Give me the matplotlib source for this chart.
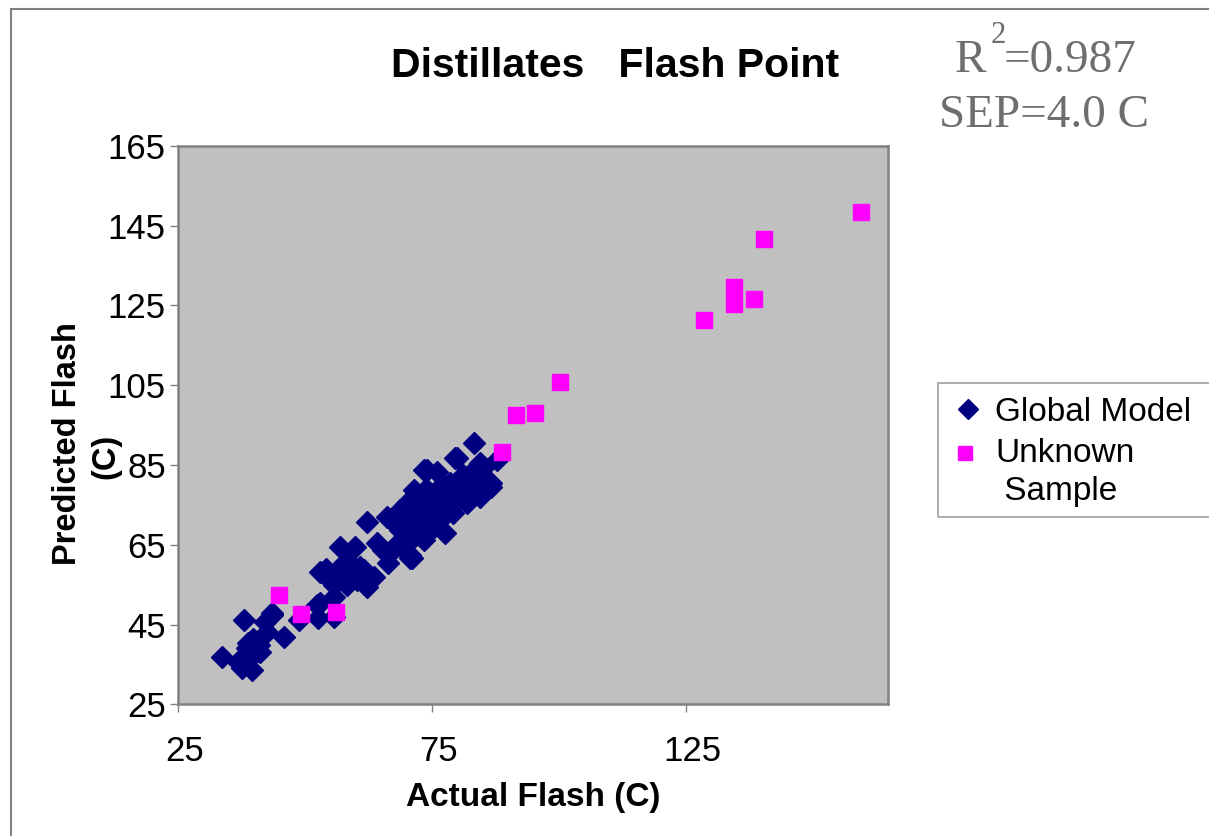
import matplotlib
matplotlib.use("Agg")
import matplotlib.pyplot as plt
from matplotlib.patches import Rectangle
from matplotlib.transforms import ScaledTranslation

plt.rcParams['font.family'] = ['Liberation Sans', 'DejaVu Sans']

# Global model calibration set (actual vs predicted flash point, C)
global_actual = [33.6, 37.9, 43.4, 42.1, 42.4, 45.8, 39.8, 38.8, 40.8, 39.5,
                 37.8, 39.1, 37.5, 39.5, 36.8, 43.4, 52.3, 52.6, 55.6, 48.7,
                 52.9, 56.9, 59.9, 62.2, 66.4, 70.7, 67.7, 63.5, 57.6, 59.5,
                 55.6, 55.6, 52.9, 61.5, 62.2, 60.2, 64.1, 65.4, 66.8, 68.7,
                 71.4, 56.9, 58.2, 54.9, 83.2, 79.9, 87.8, 86.5, 74.0, 76.0,
                 71.4, 66.1, 77.6, 70.7, 67.4, 84.5, 81.9, 79.2, 76.6, 72.7,
                 70.0, 68.7, 72.7, 75.3, 78.0, 80.6, 83.2, 70.0, 74.6, 78.0,
                 81.2, 83.9, 84.5, 71.4, 73.3, 75.3, 86.5, 79.6, 71.0, 73.3,
                 85.2, 58.5, 60.8, 54.0, 74.0, 77.0, 80.0, 82.5, 76.5, 73.8,
                 72.0, 75.0, 78.5, 81.0, 69.5, 73.0, 76.0, 79.0, 82.0, 84.0,
                 57.0, 59.0, 61.0, 55.0, 41.0, 40.0, 38.5]
global_pred = [36.8, 46.1, 47.4, 45.7, 43.2, 42.0, 41.5, 40.3, 39.9, 38.6,
               36.9, 36.5, 34.0, 33.6, 35.7, 47.9, 49.9, 46.6, 47.0, 46.1,
               58.2, 64.5, 64.5, 70.8, 60.4, 61.6, 64.1, 57.0, 60.4, 58.7,
               54.9, 52.0, 50.3, 58.7, 54.5, 56.2, 65.4, 63.7, 71.2, 68.7,
               67.0, 57.8, 54.9, 57.4, 90.4, 86.7, 86.3, 80.4, 83.8, 83.3,
               78.7, 72.0, 67.9, 62.4, 64.5, 77.1, 75.4, 72.9, 71.2, 68.7,
               67.0, 73.7, 74.5, 77.1, 78.7, 81.2, 83.8, 75.4, 72.0, 74.5,
               77.9, 81.2, 85.4, 72.0, 66.2, 69.5, 79.6, 86.7, 61.6, 83.8,
               84.6, 61.0, 59.5, 59.0, 76.0, 80.0, 76.5, 79.5, 73.5, 79.0,
               71.5, 75.5, 80.5, 82.5, 70.0, 77.0, 74.0, 76.5, 79.0, 82.0,
               59.5, 56.5, 57.5, 56.0, 38.0, 37.5, 39.0]

# Unknown samples
unknown_actual = [159.5, 140.3, 134.4, 134.4, 138.4, 128.5, 100.1, 95.2, 91.6,
                  88.7, 44.9, 49.2, 56.1]
unknown_pred = [148.4, 141.7, 129.6, 125.4, 126.6, 121.3, 105.8, 98.1, 97.6,
                88.3, 52.4, 47.6, 48.1]

x_ticks = [25, 75, 125]
y_ticks = [25, 45, 65, 85, 105, 125, 145, 165]

fig = plt.figure(figsize=(12.09, 8.36), dpi=100)
ax = fig.add_axes([0.1475, 0.1575, 0.587, 0.668])
ax.set_facecolor('#C0C0C0')

ax.plot(global_actual, global_pred, linestyle='none', marker='D', markersize=11.5,
        color='#000080', label='Global Model')
ax.plot(unknown_actual, unknown_pred, linestyle='none', marker='s', markersize=11,
        color='#FF00FF', label='Unknown\n Sample')

ax.set_xlim(25, 164.8)
ax.set_ylim(25, 165)
ax.set_xticks(x_ticks)
ax.set_yticks(y_ticks)
ax.tick_params(axis='both', colors='#808080', labelcolor='black', length=6,
               width=1, labelsize=25)
ax.tick_params(axis='x', pad=16)
ax.tick_params(axis='y', pad=3)
shift = ScaledTranslation(6 / 100, 0, fig.dpi_scale_trans)
for lbl in ax.get_xticklabels():
    lbl.set_transform(lbl.get_transform() + shift)
for sp in ax.spines.values():
    sp.set_color('#808080')
    sp.set_linewidth(1.8)

ax.set_xlabel('Actual Flash (C)', fontsize=24, fontweight='bold', labelpad=10)

# y label as two rotated lines, like the original
fig.text(68 / 1209, 1 - 444 / 836, 'Predicted Flash', fontsize=23.5,
         fontweight='bold', rotation=90, ha='center', va='center')
fig.text(106 / 1209, 1 - 456 / 836, '(C)', fontsize=23.5,
         fontweight='bold', rotation=90, ha='center', va='center')

fig.text(0.509, 0.921, 'Distillates   Flash Point', fontsize=29.5, fontweight='bold',
         ha='center', va='center')

serif = ['Liberation Serif', 'DejaVu Serif']
fig.text(0.790, 0.927, 'R', fontsize=34, color='#6E6E6E', family=serif,
         ha='left', va='center')
fig.text(0.819, 0.958, '2', fontsize=22, color='#6E6E6E', family=serif,
         ha='left', va='center')
fig.text(0.830, 0.927, '=0.987', fontsize=34, color='#6E6E6E', family=serif,
         ha='left', va='center')
fig.text(0.777, 0.861, 'SEP=4.0 C', fontsize=34, color='#6E6E6E', family=serif,
         ha='left', va='center')

leg = ax.legend(loc='upper left', bbox_to_anchor=(940 / 1209, 1 - 390 / 836),
                bbox_transform=fig.transFigure, fontsize=24, frameon=False,
                borderpad=0.2, handletextpad=0.15, handlelength=1.3,
                labelspacing=0.3, borderaxespad=0, markerscale=0.9)
for t in leg.get_texts():
    t.set_linespacing(1.3)
# square marker sits next to the first line "Unknown"
h = leg.legend_handles[1]
h.set_transform(h.get_transform() + ScaledTranslation(-0.03, 0.2, fig.dpi_scale_trans))

# legend box, running off the right edge like the original
fig.add_artist(Rectangle((938 / 1209, 1 - 517 / 836), 300 / 1209, 134 / 836,
                         transform=fig.transFigure, fill=False,
                         edgecolor='#A0A0A0', linewidth=1.2, clip_on=False))

# outer chart border (top and left visible)
fig.add_artist(Rectangle((11 / 1209, -0.1), 1.2, 1.1 - 9 / 836,
                         transform=fig.transFigure, fill=False,
                         edgecolor='#808080', linewidth=1.5, clip_on=False))

fig.savefig('out.png', dpi=100)
